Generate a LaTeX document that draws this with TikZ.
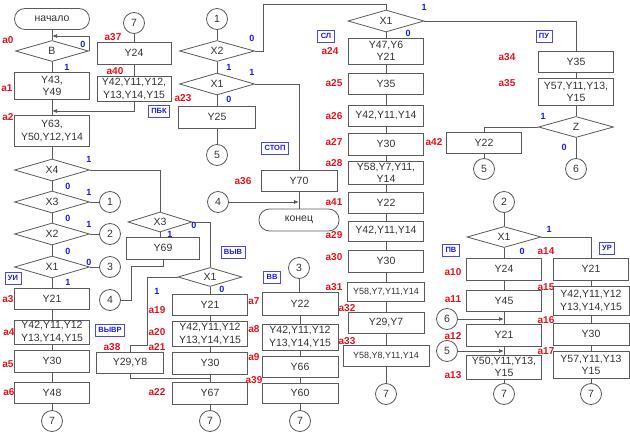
\documentclass[tikz,border=0pt]{standalone}
\usepackage{fontspec}
\setmainfont{Liberation Sans}
\usetikzlibrary{shapes.geometric,arrows.meta}
\definecolor{lc}{HTML}{5A5A5A}
\definecolor{tc}{HTML}{333333}
\definecolor{rc}{HTML}{E8101A}
\definecolor{bc}{HTML}{1A1AE0}
\tikzset{
 wh/.style 2 args={minimum width=#1, minimum height=#2},
 bx/.style={rectangle, draw=lc, fill=white, line width=0.8pt, align=center, text=tc, font=\fontsize{10.5}{12.5}\selectfont, inner sep=0pt},
 sm/.style={font=\fontsize{9}{11}\selectfont},
 dm/.style={diamond, aspect=3.5, draw=lc, fill=white, line width=0.8pt, text=tc, font=\fontsize{10.5}{12.5}\selectfont, inner sep=0pt},
 cc/.style={circle, draw=lc, fill=white, line width=0.8pt, minimum size=21, inner sep=0pt, text=tc, font=\fontsize{10.5}{12.5}\selectfont},
 tm/.style={rectangle, draw=lc, fill=white, line width=0.8pt, rounded corners=10.5pt, text=tc, font=\fontsize{10.5}{12.5}\selectfont, inner sep=0pt},
 ln/.style={draw=lc, line width=0.8pt},
 ar/.style={ln, -{Latex[length=5pt,width=4pt]}},
 ra/.style={text=rc, font=\bfseries\fontsize{10}{10}\selectfont, inner sep=0pt},
 bl/.style={text=bc, font=\bfseries\fontsize{9}{9}\selectfont, inner sep=0pt},
 tg/.style={rectangle, draw=bc!80, fill=white, line width=0.7pt, text=bc, font=\bfseries\fontsize{7.5}{8}\selectfont, inner xsep=3pt, inner ysep=1pt, minimum height=12},
}
\begin{document}
\begin{tikzpicture}[x=1pt,y=-1pt]
\useasboundingbox (0,0) rectangle (630,434);
% ---------- column 1
\node[tm, wh={75}{21}] (st) at (52,19) {начало};
\node[dm, wh={73}{21}] (dB) at (52,51) {B};
\node[bx, wh={75}{27}] (b1) at (52,86) {Y43,\\Y49};
\node[bx, wh={75}{31}] (b2) at (52,131) {Y63,\\Y50,Y12,Y14};
\node[dm, wh={75}{22}] (d4) at (52,170) {X4};
\node[dm, wh={75}{22}] (d3) at (52,202) {X3};
\node[dm, wh={75}{22}] (d2) at (52,234) {X2};
\node[dm, wh={75}{22}] (d1) at (52,267) {X1};
\node[cc] (c1) at (110,202) {1};
\node[cc] (c2) at (110,234) {2};
\node[cc] (c3) at (110,267) {3};
\node[bx, wh={75}{21}] (b3) at (52,299) {Y21};
\node[bx, wh={75}{24}] (b4) at (52,332) {Y42,Y11,Y12\\Y13,Y14,Y15};
\node[bx, wh={75}{22}] (b5) at (52,361) {Y30};
\node[bx, wh={75}{21}] (b6) at (52,393) {Y48};
\node[cc] (c7a) at (52,421) {7};
\coordinate (j0) at (52,36);
\coordinate (j1) at (52,111);
% ---------- Y24 column
\node[cc] (c7b) at (134,23) {7};
\node[bx, wh={74}{22}] (b37) at (134,53) {Y24};
\node[bx, wh={74}{25}] (b40) at (134,89) {Y42,Y11,Y12,\\Y13,Y14,Y15};
% ---------- column 2 top
\node[cc] (c1t) at (217,19) {1};
\node[dm, wh={75}{21}] (dX2) at (217,51) {X2};
\node[dm, wh={75}{22}] (dX1a) at (217,84) {X1};
\node[bx, wh={77}{22}] (b23) at (217,117) {Y25};
\node[cc] (c5a) at (217,155) {5};
% ---------- X3 / Y69 / Y29,Y8
\node[dm, wh={64}{20}] (dX3b) at (160,222) {X3};
\node[bx, wh={73}{22}] (b69) at (163,248) {Y69};
\node[cc] (c4a) at (110,300) {4};
\node[bx, wh={67}{21}] (b38) at (130,363) {Y29,Y8};
% ---------- column 3
\node[dm, wh={64}{19}] (dX1m) at (210,277) {X1};
\node[bx, wh={75}{21}] (b19) at (210,305) {Y21};
\node[bx, wh={75}{25}] (b20) at (210,334) {Y42,Y11,Y12\\Y13,Y14,Y15};
\node[bx, wh={75}{22}] (b21) at (210,363) {Y30};
\node[bx, wh={75}{22}] (b22) at (210,393) {Y67};
\node[cc] (c7c) at (210,421) {7};
\coordinate (j2) at (210,378);
% ---------- stop
\node[bx, wh={76}{21}] (b36) at (299,181) {Y70};
\node[cc] (c4b) at (218,202) {4};
\node[tm, wh={80}{22}] (en) at (299,220) {конец};
% ---------- column 4
\node[cc] (c3b) at (299,268) {3};
\node[bx, wh={76}{23}] (b7) at (300,304) {Y22};
\node[bx, wh={76}{26}] (b8) at (300,337) {Y42,Y11,Y12\\Y13,Y14,Y15};
\node[bx, wh={76}{21}] (b9) at (300,367) {Y66};
\node[bx, wh={76}{20}] (b39) at (300,393) {Y60};
\node[cc] (c7d) at (300,421) {7};
% ---------- column 5
\node[dm, wh={76}{22}] (dX1r) at (386,21) {X1};
\node[bx, wh={75}{26}] (b24) at (386,51) {Y47,Y6\\Y21};
\node[bx, wh={75}{21}] (b25) at (386,84) {Y35};
\node[bx, wh={75}{21}] (b26) at (386,116) {Y42,Y11,Y14};
\node[bx, wh={75}{22}] (b27) at (386,144) {Y30};
\node[bx, wh={75}{23}] (b28) at (386,173) {Y58,Y7,Y11,\\Y14};
\node[bx, wh={75}{21}] (b41) at (386,203) {Y22};
\node[bx, wh={75}{20}] (b29) at (386,231) {Y42,Y11,Y14};
\node[bx, wh={75}{22}] (b30) at (386,261) {Y30};
\node[bx, sm, wh={77}{19}] (b31) at (386,292) {Y58,Y7,Y11,Y14};
\node[bx, wh={76}{21}] (b32) at (386,323) {Y29,Y7};
\node[bx, sm, wh={86}{21}] (b33) at (386,356) {Y58,Y8,Y11,Y14};
\node[cc] (c7e) at (386,394) {7};
% ---------- right top
\node[bx, wh={75}{21}] (b34) at (576,62) {Y35};
\node[bx, wh={75}{27}] (b35) at (576,92) {Y57,Y11,Y13,\\Y15};
\node[dm, wh={75}{21}] (dZ) at (576,127) {Z};
\node[bx, wh={75}{21}] (b42) at (484,143) {Y22};
\node[cc] (c5b) at (484,169) {5};
\node[cc] (c6a) at (576,169) {6};
% ---------- right bottom
\node[cc] (c2b) at (504,202) {2};
\node[dm, wh={74}{21}] (dX1b) at (504,237) {X1};
\node[bx, wh={75}{22}] (b10) at (504,269) {Y24};
\node[bx, wh={75}{22}] (b14) at (591,269) {Y21};
\node[bx, wh={75}{21}] (b11) at (504,301) {Y45};
\node[bx, wh={76}{29}] (b15) at (591,301) {Y42,Y11,Y12\\Y13,Y14,Y15};
\node[bx, wh={75}{22}] (b12) at (504,335) {Y21};
\node[bx, wh={76}{22}] (b16) at (591,334) {Y30};
\node[bx, wh={75}{24}] (b13) at (504,367) {Y50,Y11,Y13,\\Y15};
\node[bx, wh={76}{27}] (b17) at (591,365) {Y57,Y11,Y13\\Y15};
\node[cc] (c6b) at (447,319) {6};
\node[cc] (c5c) at (447,351) {5};
\node[cc] (c7f) at (504,394) {7};
\node[cc] (c7g) at (591,394) {7};
% ---------- connectors col 1
\draw[ln] (st) -- (dB);
\draw[ar] (dB.east) |- (j0);
\draw[ln] (dB) -- (b1);
\draw[ln] (b1) -- (b2);
\draw[ln] (b2) -- (d4);
\draw[ln] (d4) -- (d3);
\draw[ln] (d3) -- (d2);
\draw[ln] (d2) -- (d1);
\draw[ln] (d3.east) -- (c1.west);
\draw[ln] (d2.east) -- (c2.west);
\draw[ln] (d1.east) -- (c3.west);
\draw[ln] (d1) -- (b3);
\draw[ln] (b3) -- (b4);
\draw[ln] (b4) -- (b5);
\draw[ln] (b5) -- (b6);
\draw[ln] (b6) -- (c7a);
\draw[ln] (d4.east) -| (dX3b.north);
% Y24 column
\draw[ln] (c7b) -- (b37);
\draw[ln] (b37) -- (b40);
\draw[ar] (b40.south) |- (j1);
% column 2 top
\draw[ln] (c1t) -- (dX2);
\draw[ln] (dX2) -- (dX1a);
\draw[ln] (dX1a) -- (b23);
\draw[ln] (b23) -- (c5a);
\draw[ln] (dX2.east) -| (263,4) -| (dX1r.north);
\draw[ln] (dX1a.east) -| (b36.north);
\draw[ln] (b36) -- (en);
\draw[ar] (c4b.east) -- (c4b.east -| en.north);
% X3 branch
\draw[ln] (dX3b.south) -- (dX3b.south |- b69.north);
\draw[ln] (dX3b.east) -| (dX1m.north);
\draw[ln] (b69.south) -- ++(0,7) -| (131,300) -- (c4a.east);
\draw[ln] (dX1m.west) -| (147,345) -| (b38.north);
\draw[ln] (b38.south) |- (j2);
% column 3
\draw[ln] (dX1m) -- (b19);
\draw[ln] (b19) -- (b20);
\draw[ln] (b20) -- (b21);
\draw[ln] (b21) -- (b22);
\draw[ln] (b22) -- (c7c);
% column 4
\draw[ln] (c3b) -- (c3b |- b7.north);
\draw[ln] (b7) -- (b8);
\draw[ln] (b8) -- (b9);
\draw[ln] (b9) -- (b39);
\draw[ln] (b39) -- (c7d);
% column 5
\draw[ln] (dX1r) -- (b24);
\draw[ln] (b24) -- (b25);
\draw[ln] (b25) -- (b26);
\draw[ln] (b26) -- (b27);
\draw[ln] (b27) -- (b28);
\draw[ln] (b28) -- (b41);
\draw[ln] (b41) -- (b29);
\draw[ln] (b29) -- (b30);
\draw[ln] (b30) -- (b31);
\draw[ln] (b31) -- (b32);
\draw[ln] (b32) -- (b33);
\draw[ln] (b33) -- (c7e);
\draw[ln] (dX1r.east) -| (b34.north);
% right top
\draw[ln] (b34) -- (b35);
\draw[ln] (b35) -- (dZ);
\draw[ln] (dZ.west) -| (b42.north);
\draw[ln] (b42) -- (c5b);
\draw[ln] (dZ) -- (c6a);
% right bottom
\draw[ln] (c2b) -- (dX1b);
\draw[ln] (dX1b) -- (b10);
\draw[ln] (dX1b.east) -| (b14.north);
\draw[ln] (b10) -- (b11);
\draw[ln] (b11) -- (b12);
\draw[ln] (b12) -- (b13);
\draw[ln] (b13) -- (c7f);
\draw[ln] (b14) -- (b15);
\draw[ln] (b15) -- (b16);
\draw[ln] (b16) -- (b17);
\draw[ln] (b17) -- (c7g);
\draw[ar] (c6b.east) -- (c6b.east -| b11.south);
\draw[ar] (c5c.east) -- (c5c.east -| b12.south);
% ---------- red state labels
\foreach \t/\x/\y in {a0/8/40, a1/7/88, a2/8/117, a37/113/37, a40/115/71, a23/183/98,
  a3/8/299, a4/9/332, a5/8/364, a6/9/392, a38/112/347, a19/157/310, a20/157/332,
  a21/157/347, a22/157/392, a7/254/301, a8/254/329, a9/254/357, a39/254/380, a36/243/181,
  a24/330/51, a25/334/83, a26/334/116, a27/334/142, a28/334/163, a41/334/202, a29/334/235,
  a30/334/257, a31/334/287, a32/347/308, a33/347/341, a42/434/142, a34/507/57, a35/507/83,
  a10/453/272, a11/453/299, a12/453/336, a13/453/375, a14/546/251, a15/546/287,
  a16/546/320, a17/546/351}
  \node[ra] (l\t) at (\x,\y) {\t};
% ---------- blue branch labels
\foreach \n/\t/\x/\y in {n1/0/83/44, n2/1/67/67, n3/1/89/159, n4/0/68/186, n5/1/89/192,
  n6/0/68/218, n7/1/89/224, n8/0/68/251, n9/0/89/262, n10/1/68/282, n11/0/252/38,
  n12/1/229/67, n13/1/252/72, n14/0/229/99, n15/1/424/7, n16/0/408/33, n17/0/194/225,
  n18/1/170/234, n19/1/157/291, n20/0/222/289, n21/1/543/116, n22/0/564/147,
  n23/1/549/229, n24/0/522/251}
  \node[bl] (\n) at (\x,\y) {\t};
% ---------- blue tags
\foreach \n/\t/\x/\y in {t1/СЛ/326/36, t2/ПУ/544/36, t3/ПБК/159/111, t4/СТОП/275/148,
  t5/ВЫВ/233/252, t6/ВВ/272/277, t7/УИ/13/278, t8/ВЫВР/110/330, t9/ПВ/451/250, t10/УР/607/248}
  \node[tg] (\n) at (\x,\y) {\t};
\end{tikzpicture}
\end{document}
